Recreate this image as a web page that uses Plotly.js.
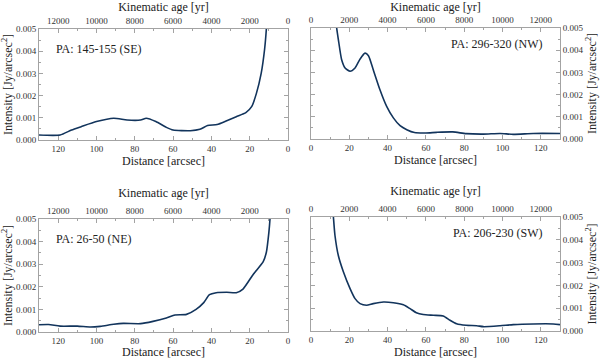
<!DOCTYPE html>
<html>
<head>
<meta charset="utf-8">
<script src="https://cdn.plot.ly/plotly-3.0.1.min.js"></script>
<style>html,body{margin:0;padding:0;background:#fff}</style>
</head>
<body>
<div id="chart" style="width:600px;height:359px"></div>
<script>
// Radial intensity profiles (distance in arcsec, intensity in Jy/arcsec^2)
const seDist = [130, 119, 113, 108, 100, 91, 84, 77, 74, 69, 63.5, 60, 51, 46, 42, 37, 32, 27, 22, 19, 16.5, 14, 12.2, 11.3, 10.5];
const seInt  = [0.000225, 0.000225, 0.00045, 0.0006, 0.00083, 0.00098, 0.0009, 0.0009, 0.00098, 0.00083, 0.00057, 0.00045, 0.00042, 0.00048, 0.00065, 0.0007, 0.00087, 0.00105, 0.00123, 0.0015, 0.0021, 0.003, 0.0041, 0.005, 0.0062];

const nwDist = [12.5, 13.4, 14.3, 16, 17.8, 20.4, 23, 25.6, 28.2, 30, 32.5, 36, 39.5, 43, 46.5, 50, 54, 60, 65.6, 74, 81, 90, 98.7, 105.6, 116, 130];
const nwInt  = [0.0058, 0.005, 0.00447, 0.00357, 0.0032, 0.00305, 0.0032, 0.0036, 0.00387, 0.00375, 0.00312, 0.00222, 0.00147, 0.00095, 0.0006, 0.00042, 0.00029, 0.00027, 0.0003, 0.00032, 0.00024, 0.00022, 0.00025, 0.00021, 0.00025, 0.00025];

const neDist = [130, 125, 119, 110, 103, 98, 91, 86, 77, 70.5, 63.5, 59, 53, 48, 44, 41, 37.5, 32, 27, 23.5, 18, 13, 11.3, 10, 9.4, 8.9];
const neInt  = [0.00032, 0.00033, 0.00026, 0.00026, 0.00022, 0.00025, 0.00034, 0.00038, 0.00037, 0.00047, 0.00062, 0.00075, 0.00078, 0.001, 0.0013, 0.00165, 0.00174, 0.00176, 0.00174, 0.0019, 0.00257, 0.0031, 0.00353, 0.0044, 0.005, 0.0058];

const swDist = [11, 11.7, 12.5, 14.3, 16.9, 20.4, 23, 25.6, 29, 32.5, 37.8, 43, 48.2, 51.7, 55, 58.6, 63.9, 69, 72.6, 76, 81, 86.5, 90, 98.7, 105.6, 116, 126.5, 130];
const swInt  = [0.0058, 0.005, 0.0042, 0.0033, 0.0026, 0.00186, 0.00142, 0.0012, 0.00113, 0.0012, 0.00127, 0.00124, 0.00115, 0.00098, 0.0008, 0.00072, 0.00069, 0.00066, 0.00047, 0.00032, 0.00025, 0.00023, 0.00019, 0.00023, 0.00028, 0.00031, 0.00031, 0.00028];

// kinematic age tick values for the top axes (yr)
const ageTicks = [0, 2000, 4000, 6000, 8000, 10000, 12000];

const panelLabels = ["PA: 145-155 (SE)", "PA: 296-320 (NW)", "PA: 26-50 (NE)", "PA: 206-230 (SW)"];

const lineColor = "#12345c";
const frameColor = "#a3a3a3";
const font = "Times New Roman, Liberation Serif, serif";

function trace(x, y, n) {
    return {
        x: x, y: y, type: "scatter", mode: "lines",
        line: { color: lineColor, width: 1.6, shape: "spline", smoothing: 0.6 },
        xaxis: "x" + (n === 1 ? "" : n), yaxis: "y" + (n === 1 ? "" : n),
        showlegend: false, hoverinfo: "skip"
    };
}

// plot areas in pixels [left, right, top, bottom]
const boxes = [
    [39, 288, 29, 140],
    [311, 560, 28, 139],
    [39, 288, 219, 332],
    [311, 560, 217, 331]
];

const layout = {
    width: 600, height: 359,
    margin: { l: 0, r: 0, t: 0, b: 0 },
    paper_bgcolor: "#fff", plot_bgcolor: "#fff",
    font: { family: font, color: "#222", size: 9 },
    annotations: []
};

const data = [
    trace(seDist, seInt, 1),
    trace(nwDist, nwInt, 2),
    trace(neDist, neInt, 3),
    trace(swDist, swInt, 4)
];

boxes.forEach((b, i) => {
    const n = i + 1;
    const left = (n % 2 === 1);
    const top = n <= 2;
    const xd = [b[0] / 600, b[1] / 600];
    const yd = [1 - b[3] / 359, 1 - b[2] / 359];
    const sfx = n === 1 ? "" : n;
    const axBase = {
        showgrid: false, zeroline: false, showline: true, linecolor: frameColor, linewidth: 1,
        ticks: "inside", ticklen: 4, tickcolor: frameColor, tickwidth: 1,
        tickfont: { family: font, size: 9, color: "#333" }
    };
    layout["xaxis" + sfx] = Object.assign({}, axBase, {
        domain: xd, anchor: "y" + sfx,
        range: left ? [130, 0] : [0, 130],
        dtick: 20, tick0: 0,
        minor: { ticks: "inside", ticklen: 2, dtick: 10, tickcolor: frameColor },
        title: { text: "Distance [arcsec]", font: { family: font, size: 12, color: "#222" }, standoff: 3 }
    });
    layout["yaxis" + sfx] = Object.assign({}, axBase, {
        domain: yd, anchor: "x" + sfx,
        side: left ? "left" : "right",
        range: [0, 0.005], dtick: 0.001, tickformat: ".3f",
        mirror: "ticks",
        minor: { ticks: "inside", ticklen: 2, dtick: 0.0005, tickcolor: frameColor },
        title: { text: "Intensity [Jy/arcsec<sup>2</sup>]", font: { family: font, size: 12, color: "#222" }, standoff: 5 }
    });
    layout["xaxis" + (n + 4)] = Object.assign({}, axBase, {
        overlaying: "x" + sfx, anchor: "y" + sfx, side: "top",
        range: left ? [13000, 0] : [0, 13000],
        dtick: 2000, tick0: 0, tickformat: "d",
        minor: { ticks: "inside", ticklen: 2, dtick: 1000, tickcolor: frameColor },
        title: { text: "Kinematic age [yr]", font: { family: font, size: 12, color: "#222" }, standoff: top ? 3 : 6 }
    });
    // empty trace so the top (age) axis gets drawn
    data.push({
        x: ageTicks, y: ageTicks.map(() => null), type: "scatter", mode: "lines",
        xaxis: "x" + (n + 4), yaxis: "y" + sfx, showlegend: false, hoverinfo: "skip"
    });
    layout.annotations.push({
        text: panelLabels[i], showarrow: false,
        xref: "x" + sfx + " domain", yref: "y" + sfx + " domain",
        x: left ? 0.06 : 0.94, xanchor: left ? "left" : "right",
        y: left ? 0.82 : 0.86, yanchor: "middle",
        font: { family: font, size: 12, color: "#222" }
    });
});

Plotly.newPlot("chart", data, layout, { displayModeBar: false, staticPlot: true });
</script>
</body>
</html>
